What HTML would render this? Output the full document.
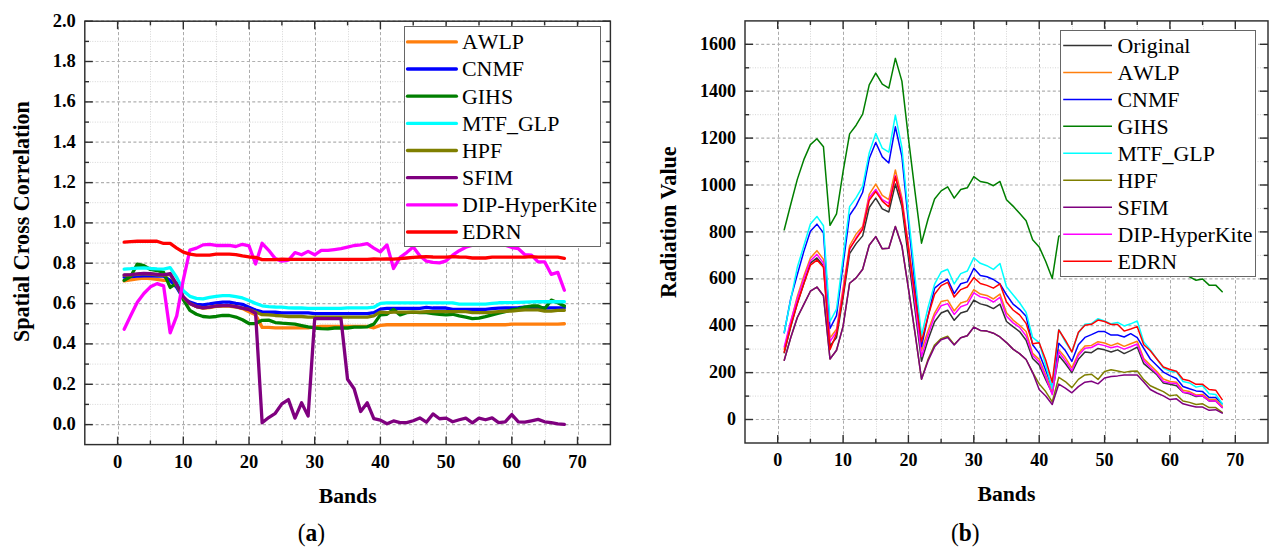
<!DOCTYPE html>
<html><head><meta charset="utf-8"><style>
html,body{margin:0;padding:0;background:#fff;width:1277px;height:552px;overflow:hidden}
svg{display:block}
text{font-family:"Liberation Serif", serif;fill:#000}
.tl{font-weight:bold}
.at{font-size:21.7px;font-weight:bold}
.yt{font-size:22.1px}
.lt{font-size:21.9px;font-kerning:none}
.sub{font-size:26px}
.frame{fill:none;stroke:#2e2e2e;stroke-width:1.45}
.tk{stroke:#2e2e2e;stroke-width:1.4}
.gmaj{stroke:#ababab;stroke-width:1;stroke-dasharray:3.2 2.2}
.gmajh{stroke:#b0b0b0;stroke-width:1.2;stroke-dasharray:3 2.4}
.gmin{stroke:#d6d6d6;stroke-width:1;stroke-dasharray:1 1.5}
.leg{fill:#fff;stroke:#666;stroke-width:1}
</style></head><body>
<svg width="1277" height="552" viewBox="0 0 1277 552">
<line x1="150.5" y1="21.2" x2="150.5" y2="444.6" class="gmin"/>
<line x1="216.5" y1="21.2" x2="216.5" y2="444.6" class="gmin"/>
<line x1="282.5" y1="21.2" x2="282.5" y2="444.6" class="gmin"/>
<line x1="348.5" y1="21.2" x2="348.5" y2="444.6" class="gmin"/>
<line x1="413.5" y1="21.2" x2="413.5" y2="444.6" class="gmin"/>
<line x1="479.5" y1="21.2" x2="479.5" y2="444.6" class="gmin"/>
<line x1="545.5" y1="21.2" x2="545.5" y2="444.6" class="gmin"/>
<line x1="84.8" y1="404.4" x2="610.4" y2="404.4" class="gmin"/>
<line x1="84.8" y1="364.1" x2="610.4" y2="364.1" class="gmin"/>
<line x1="84.8" y1="323.8" x2="610.4" y2="323.8" class="gmin"/>
<line x1="84.8" y1="283.4" x2="610.4" y2="283.4" class="gmin"/>
<line x1="84.8" y1="243.1" x2="610.4" y2="243.1" class="gmin"/>
<line x1="84.8" y1="202.7" x2="610.4" y2="202.7" class="gmin"/>
<line x1="84.8" y1="162.4" x2="610.4" y2="162.4" class="gmin"/>
<line x1="84.8" y1="122.1" x2="610.4" y2="122.1" class="gmin"/>
<line x1="84.8" y1="81.7" x2="610.4" y2="81.7" class="gmin"/>
<line x1="84.8" y1="41.4" x2="610.4" y2="41.4" class="gmin"/>
<line x1="118.5" y1="21.2" x2="118.5" y2="444.6" class="gmaj"/>
<line x1="183.5" y1="21.2" x2="183.5" y2="444.6" class="gmaj"/>
<line x1="249.5" y1="21.2" x2="249.5" y2="444.6" class="gmaj"/>
<line x1="315.5" y1="21.2" x2="315.5" y2="444.6" class="gmaj"/>
<line x1="380.5" y1="21.2" x2="380.5" y2="444.6" class="gmaj"/>
<line x1="446.5" y1="21.2" x2="446.5" y2="444.6" class="gmaj"/>
<line x1="512.5" y1="21.2" x2="512.5" y2="444.6" class="gmaj"/>
<line x1="578.5" y1="21.2" x2="578.5" y2="444.6" class="gmaj"/>
<line x1="84.8" y1="424.6" x2="610.4" y2="424.6" class="gmajh"/>
<line x1="84.8" y1="384.3" x2="610.4" y2="384.3" class="gmajh"/>
<line x1="84.8" y1="343.9" x2="610.4" y2="343.9" class="gmajh"/>
<line x1="84.8" y1="303.6" x2="610.4" y2="303.6" class="gmajh"/>
<line x1="84.8" y1="263.2" x2="610.4" y2="263.2" class="gmajh"/>
<line x1="84.8" y1="222.9" x2="610.4" y2="222.9" class="gmajh"/>
<line x1="84.8" y1="182.6" x2="610.4" y2="182.6" class="gmajh"/>
<line x1="84.8" y1="142.2" x2="610.4" y2="142.2" class="gmajh"/>
<line x1="84.8" y1="101.9" x2="610.4" y2="101.9" class="gmajh"/>
<line x1="84.8" y1="61.5" x2="610.4" y2="61.5" class="gmajh"/>
<line x1="84.8" y1="21.2" x2="610.4" y2="21.2" class="gmajh"/>
<polyline points="124.17,280.99 130.74,279.98 137.31,278.77 143.88,278.17 150.45,278.57 157.02,279.38 163.59,280.38 170.16,280.38 176.73,286.44 183.30,297.53 189.87,303.58 196.44,306.61 203.01,308.22 209.58,307.61 216.15,306.40 222.72,306.00 229.29,306.00 235.86,307.01 242.43,308.62 249.00,311.65 255.57,314.88 262.14,327.38 268.71,327.38 275.28,327.78 281.85,327.78 288.42,327.78 294.99,327.78 301.56,327.78 308.13,327.78 314.70,326.98 321.27,326.37 327.84,326.37 334.41,326.37 340.98,326.37 347.55,326.37 354.12,326.37 360.69,326.37 367.26,326.37 373.83,327.78 380.40,325.36 386.97,324.76 393.54,324.76 400.11,324.76 406.68,324.76 413.25,324.76 419.82,324.76 426.39,324.76 432.96,324.76 439.53,324.76 446.10,324.76 452.67,324.76 459.24,324.76 465.81,324.76 472.38,324.76 478.95,324.76 485.52,324.76 492.09,324.76 498.66,324.76 505.23,324.76 511.80,324.15 518.37,324.15 524.94,324.15 531.51,324.15 538.08,324.15 544.65,324.15 551.22,324.15 557.79,324.15 564.36,323.75" fill="none" stroke="#ff7f0e" stroke-width="3.3" stroke-linejoin="round" stroke-linecap="round"/>
<polyline points="124.17,277.16 130.74,276.55 137.31,276.15 143.88,275.95 150.45,275.95 157.02,276.15 163.59,276.15 170.16,280.38 176.73,287.44 183.30,298.34 189.87,302.17 196.44,304.39 203.01,304.99 209.58,303.98 216.15,302.77 222.72,302.17 229.29,302.17 235.86,303.38 242.43,304.39 249.00,307.21 255.57,310.03 262.14,311.85 268.71,312.05 275.28,312.25 281.85,312.86 288.42,312.86 294.99,312.86 301.56,312.86 308.13,312.86 314.70,313.67 321.27,313.67 327.84,313.67 334.41,313.67 340.98,313.67 347.55,313.67 354.12,313.67 360.69,313.67 367.26,313.67 373.83,312.66 380.40,309.23 386.97,308.42 393.54,308.42 400.11,308.42 406.68,308.42 413.25,308.42 419.82,308.42 426.39,307.41 432.96,308.02 439.53,308.02 446.10,308.02 452.67,309.43 459.24,309.43 465.81,309.43 472.38,309.43 478.95,309.43 485.52,309.43 492.09,308.62 498.66,308.22 505.23,308.02 511.80,307.82 518.37,307.61 524.94,307.21 531.51,307.41 538.08,307.61 544.65,308.02 551.22,307.82 557.79,307.82 564.36,307.82" fill="none" stroke="#0000ff" stroke-width="3.3" stroke-linejoin="round" stroke-linecap="round"/>
<polyline points="124.17,280.38 130.74,276.55 137.31,264.05 143.88,265.66 150.45,269.49 157.02,270.50 163.59,272.32 170.16,287.44 176.73,283.41 183.30,299.55 189.87,310.44 196.44,314.27 203.01,316.49 209.58,317.09 216.15,316.49 222.72,315.48 229.29,315.48 235.86,317.09 242.43,319.72 249.00,323.55 255.57,323.55 262.14,320.32 268.71,320.12 275.28,322.54 281.85,323.14 288.42,323.55 294.99,324.15 301.56,325.57 308.13,326.98 314.70,327.99 321.27,328.59 327.84,328.79 334.41,327.99 340.98,327.99 347.55,327.99 354.12,327.18 360.69,327.18 367.26,326.78 373.83,324.15 380.40,314.88 386.97,314.27 393.54,309.43 400.11,314.88 406.68,312.66 413.25,312.05 419.82,312.66 426.39,312.66 432.96,313.67 439.53,314.27 446.10,314.88 452.67,314.27 459.24,315.88 465.81,317.09 472.38,318.71 478.95,318.10 485.52,316.69 492.09,314.88 498.66,313.26 505.23,311.65 511.80,309.83 518.37,308.82 524.94,307.21 531.51,306.00 538.08,306.00 544.65,308.82 551.22,300.15 557.79,302.77 564.36,306.00" fill="none" stroke="#007f00" stroke-width="3.3" stroke-linejoin="round" stroke-linecap="round"/>
<polyline points="124.17,269.09 130.74,268.69 137.31,268.08 143.88,267.88 150.45,268.48 157.02,268.89 163.59,269.09 170.16,267.68 176.73,277.36 183.30,290.67 189.87,296.32 196.44,298.34 203.01,298.94 209.58,297.33 216.15,296.32 222.72,295.71 229.29,295.71 235.86,296.72 242.43,297.93 249.00,300.55 255.57,303.38 262.14,305.80 268.71,306.61 275.28,307.01 281.85,307.21 288.42,307.82 294.99,308.02 301.56,308.02 308.13,308.42 314.70,308.42 321.27,308.42 327.84,308.42 334.41,308.42 340.98,308.42 347.55,307.82 354.12,307.82 360.69,307.82 367.26,307.82 373.83,307.21 380.40,303.38 386.97,302.97 393.54,302.97 400.11,302.97 406.68,302.97 413.25,302.97 419.82,302.97 426.39,302.97 432.96,302.97 439.53,302.97 446.10,302.97 452.67,302.97 459.24,304.19 465.81,304.19 472.38,304.19 478.95,304.19 485.52,304.19 492.09,303.38 498.66,302.77 505.23,302.57 511.80,302.57 518.37,302.37 524.94,302.17 531.51,301.97 538.08,301.76 544.65,301.76 551.22,301.76 557.79,301.76 564.36,301.76" fill="none" stroke="#00ffff" stroke-width="3.3" stroke-linejoin="round" stroke-linecap="round"/>
<polyline points="124.17,275.34 130.74,274.94 137.31,274.33 143.88,273.73 150.45,274.13 157.02,274.74 163.59,275.34 170.16,274.33 176.73,285.43 183.30,297.53 189.87,303.58 196.44,306.61 203.01,307.82 209.58,307.21 216.15,306.00 222.72,305.60 229.29,305.60 235.86,306.61 242.43,308.22 249.00,309.43 255.57,312.05 262.14,314.67 268.71,314.88 275.28,315.48 281.85,315.88 288.42,316.49 294.99,316.49 301.56,316.49 308.13,317.09 314.70,317.09 321.27,317.09 327.84,317.09 334.41,317.09 340.98,317.09 347.55,317.09 354.12,317.09 360.69,317.09 367.26,317.09 373.83,315.88 380.40,312.05 386.97,312.66 393.54,312.05 400.11,312.05 406.68,312.05 413.25,312.05 419.82,312.05 426.39,311.65 432.96,311.65 439.53,311.65 446.10,311.65 452.67,311.65 459.24,311.65 465.81,311.65 472.38,312.66 478.95,312.66 485.52,312.66 492.09,312.05 498.66,311.65 505.23,311.24 511.80,311.04 518.37,310.44 524.94,309.83 531.51,309.83 538.08,309.83 544.65,311.04 551.22,311.04 557.79,310.44 564.36,310.24" fill="none" stroke="#7f7f00" stroke-width="3.3" stroke-linejoin="round" stroke-linecap="round"/>
<polyline points="124.17,274.94 130.74,274.54 137.31,273.93 143.88,273.33 150.45,273.73 157.02,274.33 163.59,274.94 170.16,273.53 176.73,284.42 183.30,296.52 189.87,303.58 196.44,306.61 203.01,307.82 209.58,307.21 216.15,306.00 222.72,305.60 229.29,305.60 235.86,306.61 242.43,308.22 249.00,309.63 255.57,313.26 262.14,422.78 268.71,417.54 275.28,413.30 281.85,403.82 288.42,399.59 294.99,418.15 301.56,402.82 308.13,416.13 314.70,318.71 321.27,318.71 327.84,318.71 334.41,318.71 340.98,318.71 347.55,379.22 354.12,388.70 360.69,411.49 367.26,402.82 373.83,418.55 380.40,420.16 386.97,423.79 393.54,420.97 400.11,422.58 406.68,422.58 413.25,420.77 419.82,417.94 426.39,422.18 432.96,413.91 439.53,418.75 446.10,418.15 452.67,421.78 459.24,419.76 465.81,418.15 472.38,422.78 478.95,418.15 485.52,419.76 492.09,417.94 498.66,422.58 505.23,421.78 511.80,414.52 518.37,421.78 524.94,422.18 531.51,420.77 538.08,419.36 544.65,421.78 551.22,422.58 557.79,423.79 564.36,424.40" fill="none" stroke="#7f007f" stroke-width="3.3" stroke-linejoin="round" stroke-linecap="round"/>
<polyline points="124.17,329.20 130.74,315.48 137.31,302.17 143.88,293.50 150.45,286.84 157.02,283.61 163.59,285.83 170.16,332.83 176.73,315.88 183.30,279.78 189.87,250.13 196.44,248.11 203.01,244.89 209.58,244.28 216.15,245.49 222.72,245.49 229.29,245.49 235.86,246.50 242.43,244.28 249.00,245.89 255.57,264.05 262.14,243.27 268.71,250.33 275.28,258.60 281.85,261.22 288.42,260.21 294.99,252.55 301.56,254.77 308.13,251.34 314.70,254.77 321.27,250.33 327.84,250.33 334.41,249.52 340.98,248.72 347.55,247.10 354.12,245.49 360.69,244.89 367.26,243.68 373.83,248.11 380.40,251.94 386.97,244.89 393.54,268.48 400.11,257.39 406.68,252.55 413.25,247.10 419.82,255.78 426.39,261.22 432.96,262.43 439.53,262.84 446.10,260.82 452.67,255.17 459.24,250.73 465.81,247.31 472.38,245.09 478.95,245.09 485.52,244.08 492.09,244.08 498.66,244.08 505.23,245.09 511.80,247.51 518.37,248.72 524.94,254.77 531.51,255.17 538.08,261.83 544.65,261.83 551.22,274.33 557.79,272.32 564.36,290.27" fill="none" stroke="#ff00ff" stroke-width="3.3" stroke-linejoin="round" stroke-linecap="round"/>
<polyline points="124.17,242.06 130.74,241.66 137.31,241.25 143.88,241.05 150.45,241.25 157.02,241.25 163.59,243.47 170.16,243.47 176.73,248.11 183.30,252.15 189.87,254.16 196.44,255.17 203.01,255.17 209.58,255.17 216.15,254.16 222.72,254.16 229.29,254.16 235.86,254.57 242.43,255.98 249.00,256.99 255.57,257.39 262.14,259.61 268.71,259.61 275.28,259.61 281.85,259.21 288.42,259.41 294.99,259.41 301.56,259.41 308.13,259.41 314.70,259.41 321.27,259.41 327.84,259.41 334.41,259.41 340.98,259.41 347.55,259.41 354.12,259.41 360.69,259.41 367.26,259.41 373.83,259.00 380.40,259.21 386.97,258.80 393.54,259.21 400.11,258.60 406.68,258.00 413.25,257.39 419.82,256.99 426.39,256.58 432.96,256.99 439.53,257.19 446.10,257.19 452.67,256.58 459.24,256.99 465.81,257.19 472.38,258.00 478.95,258.00 485.52,258.00 492.09,257.19 498.66,257.19 505.23,257.19 511.80,257.19 518.37,257.19 524.94,257.19 531.51,256.58 538.08,257.19 544.65,257.19 551.22,257.19 557.79,257.19 564.36,258.40" fill="none" stroke="#ff0000" stroke-width="3.3" stroke-linejoin="round" stroke-linecap="round"/>
<rect x="84.8" y="21.2" width="525.6" height="423.4" class="frame"/>
<line x1="117.6" y1="444.6" x2="117.6" y2="436.6" class="tk"/>
<line x1="117.6" y1="21.2" x2="117.6" y2="29.2" class="tk"/>
<text x="117.6" y="467.6" class="tl" font-size="18.5" text-anchor="middle">0</text>
<line x1="183.3" y1="444.6" x2="183.3" y2="436.6" class="tk"/>
<line x1="183.3" y1="21.2" x2="183.3" y2="29.2" class="tk"/>
<text x="183.3" y="467.6" class="tl" font-size="18.5" text-anchor="middle">10</text>
<line x1="249.0" y1="444.6" x2="249.0" y2="436.6" class="tk"/>
<line x1="249.0" y1="21.2" x2="249.0" y2="29.2" class="tk"/>
<text x="249.0" y="467.6" class="tl" font-size="18.5" text-anchor="middle">20</text>
<line x1="314.7" y1="444.6" x2="314.7" y2="436.6" class="tk"/>
<line x1="314.7" y1="21.2" x2="314.7" y2="29.2" class="tk"/>
<text x="314.7" y="467.6" class="tl" font-size="18.5" text-anchor="middle">30</text>
<line x1="380.4" y1="444.6" x2="380.4" y2="436.6" class="tk"/>
<line x1="380.4" y1="21.2" x2="380.4" y2="29.2" class="tk"/>
<text x="380.4" y="467.6" class="tl" font-size="18.5" text-anchor="middle">40</text>
<line x1="446.1" y1="444.6" x2="446.1" y2="436.6" class="tk"/>
<line x1="446.1" y1="21.2" x2="446.1" y2="29.2" class="tk"/>
<text x="446.1" y="467.6" class="tl" font-size="18.5" text-anchor="middle">50</text>
<line x1="511.8" y1="444.6" x2="511.8" y2="436.6" class="tk"/>
<line x1="511.8" y1="21.2" x2="511.8" y2="29.2" class="tk"/>
<text x="511.8" y="467.6" class="tl" font-size="18.5" text-anchor="middle">60</text>
<line x1="577.5" y1="444.6" x2="577.5" y2="436.6" class="tk"/>
<line x1="577.5" y1="21.2" x2="577.5" y2="29.2" class="tk"/>
<text x="577.5" y="467.6" class="tl" font-size="18.5" text-anchor="middle">70</text>
<line x1="150.4" y1="444.6" x2="150.4" y2="440.4" class="tk"/>
<line x1="150.4" y1="21.2" x2="150.4" y2="25.4" class="tk"/>
<line x1="216.2" y1="444.6" x2="216.2" y2="440.4" class="tk"/>
<line x1="216.2" y1="21.2" x2="216.2" y2="25.4" class="tk"/>
<line x1="281.9" y1="444.6" x2="281.9" y2="440.4" class="tk"/>
<line x1="281.9" y1="21.2" x2="281.9" y2="25.4" class="tk"/>
<line x1="347.6" y1="444.6" x2="347.6" y2="440.4" class="tk"/>
<line x1="347.6" y1="21.2" x2="347.6" y2="25.4" class="tk"/>
<line x1="413.2" y1="444.6" x2="413.2" y2="440.4" class="tk"/>
<line x1="413.2" y1="21.2" x2="413.2" y2="25.4" class="tk"/>
<line x1="479.0" y1="444.6" x2="479.0" y2="440.4" class="tk"/>
<line x1="479.0" y1="21.2" x2="479.0" y2="25.4" class="tk"/>
<line x1="544.6" y1="444.6" x2="544.6" y2="440.4" class="tk"/>
<line x1="544.6" y1="21.2" x2="544.6" y2="25.4" class="tk"/>
<line x1="84.8" y1="424.6" x2="92.8" y2="424.6" class="tk"/>
<line x1="610.4" y1="424.6" x2="602.4" y2="424.6" class="tk"/>
<text x="75.8" y="429.9" class="tl" font-size="18.5" text-anchor="end">0.0</text>
<line x1="84.8" y1="384.3" x2="92.8" y2="384.3" class="tk"/>
<line x1="610.4" y1="384.3" x2="602.4" y2="384.3" class="tk"/>
<text x="75.8" y="389.6" class="tl" font-size="18.5" text-anchor="end">0.2</text>
<line x1="84.8" y1="343.9" x2="92.8" y2="343.9" class="tk"/>
<line x1="610.4" y1="343.9" x2="602.4" y2="343.9" class="tk"/>
<text x="75.8" y="349.2" class="tl" font-size="18.5" text-anchor="end">0.4</text>
<line x1="84.8" y1="303.6" x2="92.8" y2="303.6" class="tk"/>
<line x1="610.4" y1="303.6" x2="602.4" y2="303.6" class="tk"/>
<text x="75.8" y="308.9" class="tl" font-size="18.5" text-anchor="end">0.6</text>
<line x1="84.8" y1="263.2" x2="92.8" y2="263.2" class="tk"/>
<line x1="610.4" y1="263.2" x2="602.4" y2="263.2" class="tk"/>
<text x="75.8" y="268.5" class="tl" font-size="18.5" text-anchor="end">0.8</text>
<line x1="84.8" y1="222.9" x2="92.8" y2="222.9" class="tk"/>
<line x1="610.4" y1="222.9" x2="602.4" y2="222.9" class="tk"/>
<text x="75.8" y="228.2" class="tl" font-size="18.5" text-anchor="end">1.0</text>
<line x1="84.8" y1="182.6" x2="92.8" y2="182.6" class="tk"/>
<line x1="610.4" y1="182.6" x2="602.4" y2="182.6" class="tk"/>
<text x="75.8" y="187.9" class="tl" font-size="18.5" text-anchor="end">1.2</text>
<line x1="84.8" y1="142.2" x2="92.8" y2="142.2" class="tk"/>
<line x1="610.4" y1="142.2" x2="602.4" y2="142.2" class="tk"/>
<text x="75.8" y="147.5" class="tl" font-size="18.5" text-anchor="end">1.4</text>
<line x1="84.8" y1="101.9" x2="92.8" y2="101.9" class="tk"/>
<line x1="610.4" y1="101.9" x2="602.4" y2="101.9" class="tk"/>
<text x="75.8" y="107.2" class="tl" font-size="18.5" text-anchor="end">1.6</text>
<line x1="84.8" y1="61.5" x2="92.8" y2="61.5" class="tk"/>
<line x1="610.4" y1="61.5" x2="602.4" y2="61.5" class="tk"/>
<text x="75.8" y="66.8" class="tl" font-size="18.5" text-anchor="end">1.8</text>
<line x1="84.8" y1="21.2" x2="92.8" y2="21.2" class="tk"/>
<line x1="610.4" y1="21.2" x2="602.4" y2="21.2" class="tk"/>
<text x="75.8" y="26.5" class="tl" font-size="18.5" text-anchor="end">2.0</text>
<line x1="84.8" y1="404.4" x2="89.0" y2="404.4" class="tk"/>
<line x1="610.4" y1="404.4" x2="606.1" y2="404.4" class="tk"/>
<line x1="84.8" y1="364.1" x2="89.0" y2="364.1" class="tk"/>
<line x1="610.4" y1="364.1" x2="606.1" y2="364.1" class="tk"/>
<line x1="84.8" y1="323.8" x2="89.0" y2="323.8" class="tk"/>
<line x1="610.4" y1="323.8" x2="606.1" y2="323.8" class="tk"/>
<line x1="84.8" y1="283.4" x2="89.0" y2="283.4" class="tk"/>
<line x1="610.4" y1="283.4" x2="606.1" y2="283.4" class="tk"/>
<line x1="84.8" y1="243.1" x2="89.0" y2="243.1" class="tk"/>
<line x1="610.4" y1="243.1" x2="606.1" y2="243.1" class="tk"/>
<line x1="84.8" y1="202.7" x2="89.0" y2="202.7" class="tk"/>
<line x1="610.4" y1="202.7" x2="606.1" y2="202.7" class="tk"/>
<line x1="84.8" y1="162.4" x2="89.0" y2="162.4" class="tk"/>
<line x1="610.4" y1="162.4" x2="606.1" y2="162.4" class="tk"/>
<line x1="84.8" y1="122.1" x2="89.0" y2="122.1" class="tk"/>
<line x1="610.4" y1="122.1" x2="606.1" y2="122.1" class="tk"/>
<line x1="84.8" y1="81.7" x2="89.0" y2="81.7" class="tk"/>
<line x1="610.4" y1="81.7" x2="606.1" y2="81.7" class="tk"/>
<line x1="84.8" y1="41.4" x2="89.0" y2="41.4" class="tk"/>
<line x1="610.4" y1="41.4" x2="606.1" y2="41.4" class="tk"/>
<text x="29.1" y="221.6" class="at yt" text-anchor="middle" transform="rotate(-90 29.1 221.6)">Spatial Cross Correlation</text>
<text x="347.7" y="502.9" class="at" text-anchor="middle">Bands</text>
<g transform="translate(311.3 541.3) scale(0.9 1)"><text x="0" y="0" class="sub" text-anchor="middle">(<tspan font-weight="bold">a</tspan>)</text></g>
<rect x="404.5" y="26.5" width="196.0" height="220.0" class="leg"/>
<line x1="407.5" y1="41.9" x2="456.4" y2="41.9" stroke="#ff7f0e" stroke-width="3.3" stroke-linecap="round"/>
<text x="462" y="49.2" class="lt">AWLP</text>
<line x1="407.5" y1="69.0" x2="456.4" y2="69.0" stroke="#0000ff" stroke-width="3.3" stroke-linecap="round"/>
<text x="462" y="76.4" class="lt">CNMF</text>
<line x1="407.5" y1="96.2" x2="456.4" y2="96.2" stroke="#007f00" stroke-width="3.3" stroke-linecap="round"/>
<text x="462" y="103.6" class="lt">GIHS</text>
<line x1="407.5" y1="123.4" x2="456.4" y2="123.4" stroke="#00ffff" stroke-width="3.3" stroke-linecap="round"/>
<text x="462" y="130.8" class="lt">MTF_GLP</text>
<line x1="407.5" y1="150.5" x2="456.4" y2="150.5" stroke="#7f7f00" stroke-width="3.3" stroke-linecap="round"/>
<text x="462" y="157.9" class="lt">HPF</text>
<line x1="407.5" y1="177.7" x2="456.4" y2="177.7" stroke="#7f007f" stroke-width="3.3" stroke-linecap="round"/>
<text x="462" y="185.1" class="lt">SFIM</text>
<line x1="407.5" y1="204.9" x2="456.4" y2="204.9" stroke="#ff00ff" stroke-width="3.3" stroke-linecap="round"/>
<text x="462" y="212.3" class="lt">DIP-HyperKite</text>
<line x1="407.5" y1="232.0" x2="456.4" y2="232.0" stroke="#ff0000" stroke-width="3.3" stroke-linecap="round"/>
<text x="462" y="239.4" class="lt">EDRN</text>
<line x1="810.5" y1="20.9" x2="810.5" y2="443.0" class="gmin"/>
<line x1="876.5" y1="20.9" x2="876.5" y2="443.0" class="gmin"/>
<line x1="941.5" y1="20.9" x2="941.5" y2="443.0" class="gmin"/>
<line x1="1006.5" y1="20.9" x2="1006.5" y2="443.0" class="gmin"/>
<line x1="1072.5" y1="20.9" x2="1072.5" y2="443.0" class="gmin"/>
<line x1="1137.5" y1="20.9" x2="1137.5" y2="443.0" class="gmin"/>
<line x1="1203.5" y1="20.9" x2="1203.5" y2="443.0" class="gmin"/>
<line x1="745.0" y1="396.1" x2="1268.0" y2="396.1" class="gmin"/>
<line x1="745.0" y1="349.1" x2="1268.0" y2="349.1" class="gmin"/>
<line x1="745.0" y1="302.2" x2="1268.0" y2="302.2" class="gmin"/>
<line x1="745.0" y1="255.4" x2="1268.0" y2="255.4" class="gmin"/>
<line x1="745.0" y1="208.5" x2="1268.0" y2="208.5" class="gmin"/>
<line x1="745.0" y1="161.6" x2="1268.0" y2="161.6" class="gmin"/>
<line x1="745.0" y1="114.7" x2="1268.0" y2="114.7" class="gmin"/>
<line x1="745.0" y1="67.8" x2="1268.0" y2="67.8" class="gmin"/>
<line x1="778.5" y1="20.9" x2="778.5" y2="443.0" class="gmaj"/>
<line x1="843.5" y1="20.9" x2="843.5" y2="443.0" class="gmaj"/>
<line x1="908.5" y1="20.9" x2="908.5" y2="443.0" class="gmaj"/>
<line x1="974.5" y1="20.9" x2="974.5" y2="443.0" class="gmaj"/>
<line x1="1039.5" y1="20.9" x2="1039.5" y2="443.0" class="gmaj"/>
<line x1="1105.5" y1="20.9" x2="1105.5" y2="443.0" class="gmaj"/>
<line x1="1170.5" y1="20.9" x2="1170.5" y2="443.0" class="gmaj"/>
<line x1="1235.5" y1="20.9" x2="1235.5" y2="443.0" class="gmaj"/>
<line x1="745.0" y1="419.5" x2="1268.0" y2="419.5" class="gmajh"/>
<line x1="745.0" y1="372.6" x2="1268.0" y2="372.6" class="gmajh"/>
<line x1="745.0" y1="325.7" x2="1268.0" y2="325.7" class="gmajh"/>
<line x1="745.0" y1="278.8" x2="1268.0" y2="278.8" class="gmajh"/>
<line x1="745.0" y1="231.9" x2="1268.0" y2="231.9" class="gmajh"/>
<line x1="745.0" y1="185.0" x2="1268.0" y2="185.0" class="gmajh"/>
<line x1="745.0" y1="138.1" x2="1268.0" y2="138.1" class="gmajh"/>
<line x1="745.0" y1="91.2" x2="1268.0" y2="91.2" class="gmajh"/>
<line x1="745.0" y1="44.3" x2="1268.0" y2="44.3" class="gmajh"/>
<polyline points="784.24,352.67 790.77,326.87 797.31,303.42 803.85,283.49 810.38,263.09 816.92,257.93 823.46,265.90 830.00,345.87 836.53,337.43 843.07,297.56 849.61,253.71 856.14,243.62 862.68,235.89 869.22,207.51 875.75,198.13 882.29,208.92 888.83,211.97 895.37,184.06 901.90,206.57 908.44,257.70 914.98,309.29 921.51,361.34 928.05,339.77 934.59,321.71 941.12,313.04 947.66,310.22 954.20,320.31 960.74,313.04 967.27,310.93 973.81,300.14 980.35,303.89 986.88,305.53 993.42,308.58 999.96,304.13 1006.50,321.48 1013.03,326.64 1019.57,331.56 1026.11,340.24 1032.64,358.53 1039.18,364.86 1045.72,379.63 1052.25,393.24 1058.79,355.48 1065.33,363.45 1071.87,372.60 1078.40,359.23 1084.94,351.96 1091.48,352.67 1098.01,348.45 1104.55,349.85 1111.09,351.96 1117.62,349.85 1124.16,353.61 1130.70,350.56 1137.24,347.04 1143.77,363.69 1150.31,369.08 1156.85,374.71 1163.38,382.92 1169.92,384.32 1176.46,385.73 1182.99,392.30 1189.53,393.70 1196.07,396.52 1202.61,395.82 1209.14,400.97 1215.68,400.97 1222.22,407.54" fill="none" stroke="#333333" stroke-width="1.5" stroke-linejoin="round" stroke-linecap="round"/>
<polyline points="784.24,349.15 790.77,322.18 797.31,296.39 803.85,275.99 810.38,257.93 816.92,250.66 823.46,259.34 830.00,337.89 836.53,329.22 843.07,288.18 849.61,245.74 856.14,234.01 862.68,226.51 869.22,194.38 875.75,184.06 882.29,195.32 888.83,199.54 895.37,169.99 901.90,197.90 908.44,244.80 914.98,295.22 921.51,350.79 928.05,330.39 934.59,313.04 941.12,301.55 947.66,300.14 954.20,310.93 960.74,302.95 967.27,300.84 973.81,289.59 980.35,294.04 986.88,295.45 993.42,298.97 999.96,294.04 1006.50,312.80 1013.03,320.07 1019.57,325.23 1026.11,331.56 1032.64,353.37 1039.18,359.23 1045.72,374.94 1052.25,391.83 1058.79,349.62 1065.33,357.59 1071.87,367.91 1078.40,353.37 1084.94,346.10 1091.48,345.40 1098.01,341.65 1104.55,343.05 1111.09,345.63 1117.62,343.29 1124.16,346.34 1130.70,343.76 1137.24,341.18 1143.77,358.53 1150.31,365.10 1156.85,371.43 1163.38,378.93 1169.92,381.51 1176.46,382.21 1182.99,390.19 1189.53,391.59 1196.07,394.88 1202.61,394.41 1209.14,399.57 1215.68,399.57 1222.22,406.13" fill="none" stroke="#ff7f0e" stroke-width="1.5" stroke-linejoin="round" stroke-linecap="round"/>
<polyline points="784.24,332.74 790.77,298.50 797.31,274.58 803.85,251.36 810.38,231.20 816.92,224.16 823.46,232.84 830.00,328.51 836.53,315.62 843.07,264.73 849.61,215.25 856.14,205.64 862.68,192.27 869.22,158.50 875.75,142.56 882.29,156.86 888.83,162.96 895.37,126.84 901.90,156.39 908.44,222.52 914.98,284.66 921.51,346.57 928.05,316.32 934.59,288.18 941.12,282.79 947.66,279.27 954.20,293.57 960.74,283.72 967.27,281.85 973.81,268.25 980.35,275.52 986.88,276.69 993.42,279.50 999.96,283.96 1006.50,294.75 1013.03,304.13 1019.57,309.29 1026.11,316.32 1032.64,344.69 1039.18,353.37 1045.72,370.25 1052.25,387.37 1058.79,343.29 1065.33,350.56 1071.87,361.34 1078.40,344.69 1084.94,337.43 1091.48,334.61 1098.01,331.56 1104.55,331.56 1111.09,335.08 1117.62,335.08 1124.16,336.96 1130.70,333.67 1137.24,337.66 1143.77,348.45 1150.31,359.00 1156.85,365.56 1163.38,372.13 1169.92,375.65 1176.46,378.46 1182.99,386.44 1189.53,388.78 1196.07,390.89 1202.61,391.59 1209.14,397.46 1215.68,397.46 1222.22,403.79" fill="none" stroke="#0000ff" stroke-width="1.5" stroke-linejoin="round" stroke-linecap="round"/>
<polyline points="784.24,229.79 790.77,204.23 797.31,179.37 803.85,159.67 810.38,144.67 816.92,138.80 823.46,146.78 830.00,225.33 836.53,213.84 843.07,171.63 849.61,133.88 856.14,125.20 862.68,114.18 869.22,84.87 875.75,73.14 882.29,84.17 888.83,88.15 895.37,58.37 901.90,81.12 908.44,138.10 914.98,191.57 921.51,243.16 928.05,219.00 934.59,199.07 941.12,190.86 947.66,186.88 954.20,198.13 960.74,189.46 967.27,187.81 973.81,176.56 980.35,181.48 986.88,182.66 993.42,185.70 999.96,181.48 1006.50,199.77 1013.03,206.11 1019.57,213.37 1026.11,220.64 1032.64,239.64 1039.18,246.91 1045.72,261.45 1052.25,278.57 1058.79,236.12 1065.33,234.25 1071.87,238.94 1078.40,231.90 1084.94,229.56 1091.48,229.56 1098.01,227.21 1104.55,227.21 1111.09,229.56 1117.62,229.56 1124.16,231.90 1130.70,231.90 1137.24,231.90 1143.77,243.62 1150.31,250.66 1156.85,255.35 1163.38,260.04 1169.92,264.73 1176.46,269.42 1182.99,272.94 1189.53,276.92 1196.07,280.21 1202.61,279.03 1209.14,285.13 1215.68,285.13 1222.22,291.70" fill="none" stroke="#007f00" stroke-width="1.5" stroke-linejoin="round" stroke-linecap="round"/>
<polyline points="784.24,332.27 790.77,299.44 797.31,267.31 803.85,245.74 810.38,223.93 816.92,216.42 823.46,225.80 830.00,321.48 836.53,309.05 843.07,257.70 849.61,206.57 856.14,197.66 862.68,186.41 869.22,152.87 875.75,133.41 882.29,148.18 888.83,152.17 895.37,115.12 901.90,147.71 908.44,215.49 914.98,276.46 921.51,335.78 928.05,307.41 934.59,284.19 941.12,272.00 947.66,269.19 954.20,283.96 960.74,273.64 967.27,271.06 973.81,257.70 980.35,263.32 986.88,265.67 993.42,269.42 999.96,263.56 1006.50,286.77 1013.03,294.75 1019.57,302.72 1026.11,312.33 1032.64,337.43 1039.18,342.58 1045.72,365.56 1052.25,388.78 1058.79,329.45 1065.33,341.88 1071.87,351.96 1078.40,332.97 1084.94,324.29 1091.48,323.59 1098.01,318.67 1104.55,321.01 1111.09,323.82 1117.62,322.42 1124.16,325.93 1130.70,323.82 1137.24,321.01 1143.77,341.88 1150.31,349.62 1156.85,359.00 1163.38,368.14 1169.92,371.19 1176.46,371.90 1182.99,381.51 1189.53,382.92 1196.07,387.14 1202.61,385.73 1209.14,393.70 1215.68,394.41 1222.22,403.79" fill="none" stroke="#00ffff" stroke-width="1.5" stroke-linejoin="round" stroke-linecap="round"/>
<polyline points="784.24,360.17 790.77,337.43 797.31,317.49 803.85,304.36 810.38,291.23 816.92,287.01 823.46,295.68 830.00,359.00 836.53,350.32 843.07,326.40 849.61,283.26 856.14,277.86 862.68,269.19 869.22,245.27 875.75,236.59 882.29,248.78 888.83,248.31 895.37,226.51 901.90,245.97 908.44,288.65 914.98,332.74 921.51,379.17 928.05,359.23 934.59,344.93 941.12,338.60 947.66,336.25 954.20,344.46 960.74,337.66 967.27,335.78 973.81,327.11 980.35,330.39 986.88,331.09 993.42,333.20 999.96,336.96 1006.50,342.58 1013.03,349.15 1019.57,353.61 1026.11,359.47 1032.64,372.37 1039.18,383.86 1045.72,391.59 1052.25,401.91 1058.79,377.29 1065.33,381.51 1071.87,387.61 1078.40,379.40 1084.94,374.94 1091.48,374.24 1098.01,379.40 1104.55,371.43 1111.09,369.79 1117.62,370.96 1124.16,372.37 1130.70,371.19 1137.24,370.96 1143.77,379.63 1150.31,385.73 1156.85,388.78 1163.38,391.59 1169.92,395.82 1176.46,394.88 1182.99,400.97 1189.53,402.38 1196.07,404.49 1202.61,403.79 1209.14,407.54 1215.68,407.54 1222.22,412.46" fill="none" stroke="#7f7f00" stroke-width="1.5" stroke-linejoin="round" stroke-linecap="round"/>
<polyline points="784.24,360.17 790.77,337.43 797.31,317.49 803.85,304.36 810.38,291.23 816.92,287.01 823.46,295.68 830.00,359.00 836.53,350.32 843.07,326.40 849.61,283.26 856.14,277.86 862.68,269.19 869.22,245.27 875.75,236.59 882.29,248.78 888.83,248.31 895.37,226.51 901.90,245.97 908.44,288.65 914.98,332.74 921.51,379.17 928.05,360.88 934.59,346.81 941.12,339.77 947.66,337.43 954.20,344.93 960.74,337.66 967.27,335.78 973.81,327.11 980.35,330.39 986.88,331.09 993.42,333.20 999.96,336.96 1006.50,342.58 1013.03,349.15 1019.57,353.61 1026.11,359.47 1032.64,372.60 1039.18,389.48 1045.72,396.05 1052.25,404.49 1058.79,384.09 1065.33,388.08 1071.87,392.77 1078.40,386.67 1084.94,382.21 1091.48,381.28 1098.01,383.86 1104.55,377.99 1111.09,376.59 1117.62,375.88 1124.16,374.94 1130.70,374.94 1137.24,374.94 1143.77,381.98 1150.31,389.48 1156.85,393.00 1163.38,395.82 1169.92,399.57 1176.46,398.86 1182.99,403.79 1189.53,405.43 1196.07,407.07 1202.61,407.07 1209.14,410.35 1215.68,409.65 1222.22,413.17" fill="none" stroke="#7f007f" stroke-width="1.5" stroke-linejoin="round" stroke-linecap="round"/>
<polyline points="784.24,346.81 790.77,321.01 797.31,298.73 803.85,278.80 810.38,260.74 816.92,254.41 823.46,263.09 830.00,341.65 836.53,331.56 843.07,291.70 849.61,249.49 856.14,237.76 862.68,228.38 869.22,197.43 875.75,189.46 882.29,199.54 888.83,203.29 895.37,175.62 901.90,200.24 908.44,248.31 914.98,302.25 921.51,356.42 928.05,335.08 934.59,316.09 941.12,305.77 947.66,303.66 954.20,314.44 960.74,306.71 967.27,304.36 973.81,292.87 980.35,296.86 986.88,298.26 993.42,302.02 999.96,297.33 1006.50,316.32 1013.03,322.89 1019.57,327.34 1026.11,336.02 1032.64,355.48 1039.18,362.05 1045.72,377.29 1052.25,394.64 1058.79,351.96 1065.33,360.64 1071.87,370.72 1078.40,355.48 1084.94,348.21 1091.48,347.51 1098.01,343.99 1104.55,345.63 1111.09,347.74 1117.62,346.34 1124.16,349.15 1130.70,346.81 1137.24,343.99 1143.77,360.64 1150.31,367.44 1156.85,373.54 1163.38,381.51 1169.92,382.92 1176.46,383.62 1182.99,392.30 1189.53,393.00 1196.07,395.82 1202.61,395.82 1209.14,400.97 1215.68,400.97 1222.22,407.54" fill="none" stroke="#ff00ff" stroke-width="1.5" stroke-linejoin="round" stroke-linecap="round"/>
<polyline points="784.24,351.96 790.77,325.70 797.31,303.42 803.85,283.49 810.38,265.20 816.92,260.04 823.46,267.31 830.00,349.62 836.53,333.67 843.07,294.51 849.61,248.55 856.14,238.94 862.68,229.32 869.22,200.24 875.75,191.57 882.29,201.18 888.83,206.81 895.37,176.79 901.90,202.35 908.44,248.78 914.98,295.45 921.51,341.65 928.05,316.32 934.59,294.28 941.12,285.60 947.66,282.32 954.20,297.09 960.74,289.59 967.27,287.01 973.81,277.63 980.35,283.49 986.88,285.37 993.42,288.18 999.96,283.96 1006.50,302.02 1013.03,309.99 1019.57,314.91 1026.11,323.36 1032.64,343.76 1039.18,342.82 1045.72,359.94 1052.25,382.21 1058.79,329.92 1065.33,340.24 1071.87,351.96 1078.40,332.27 1084.94,325.23 1091.48,324.29 1098.01,320.07 1104.55,321.48 1111.09,324.53 1117.62,324.53 1124.16,331.09 1130.70,328.98 1137.24,326.64 1143.77,344.69 1150.31,350.79 1156.85,359.00 1163.38,366.97 1169.92,369.55 1176.46,371.19 1182.99,379.17 1189.53,380.81 1196.07,384.32 1202.61,384.32 1209.14,389.48 1215.68,390.19 1222.22,399.57" fill="none" stroke="#ff0000" stroke-width="1.5" stroke-linejoin="round" stroke-linecap="round"/>
<rect x="745.0" y="20.9" width="523.0" height="422.1" class="frame"/>
<line x1="777.7" y1="443.0" x2="777.7" y2="435.0" class="tk"/>
<line x1="777.7" y1="20.9" x2="777.7" y2="28.9" class="tk"/>
<text x="777.7" y="466.0" class="tl" font-size="18.0" text-anchor="middle">0</text>
<line x1="843.1" y1="443.0" x2="843.1" y2="435.0" class="tk"/>
<line x1="843.1" y1="20.9" x2="843.1" y2="28.9" class="tk"/>
<text x="843.1" y="466.0" class="tl" font-size="18.0" text-anchor="middle">10</text>
<line x1="908.4" y1="443.0" x2="908.4" y2="435.0" class="tk"/>
<line x1="908.4" y1="20.9" x2="908.4" y2="28.9" class="tk"/>
<text x="908.4" y="466.0" class="tl" font-size="18.0" text-anchor="middle">20</text>
<line x1="973.8" y1="443.0" x2="973.8" y2="435.0" class="tk"/>
<line x1="973.8" y1="20.9" x2="973.8" y2="28.9" class="tk"/>
<text x="973.8" y="466.0" class="tl" font-size="18.0" text-anchor="middle">30</text>
<line x1="1039.2" y1="443.0" x2="1039.2" y2="435.0" class="tk"/>
<line x1="1039.2" y1="20.9" x2="1039.2" y2="28.9" class="tk"/>
<text x="1039.2" y="466.0" class="tl" font-size="18.0" text-anchor="middle">40</text>
<line x1="1104.6" y1="443.0" x2="1104.6" y2="435.0" class="tk"/>
<line x1="1104.6" y1="20.9" x2="1104.6" y2="28.9" class="tk"/>
<text x="1104.6" y="466.0" class="tl" font-size="18.0" text-anchor="middle">50</text>
<line x1="1169.9" y1="443.0" x2="1169.9" y2="435.0" class="tk"/>
<line x1="1169.9" y1="20.9" x2="1169.9" y2="28.9" class="tk"/>
<text x="1169.9" y="466.0" class="tl" font-size="18.0" text-anchor="middle">60</text>
<line x1="1235.3" y1="443.0" x2="1235.3" y2="435.0" class="tk"/>
<line x1="1235.3" y1="20.9" x2="1235.3" y2="28.9" class="tk"/>
<text x="1235.3" y="466.0" class="tl" font-size="18.0" text-anchor="middle">70</text>
<line x1="810.4" y1="443.0" x2="810.4" y2="438.8" class="tk"/>
<line x1="810.4" y1="20.9" x2="810.4" y2="25.1" class="tk"/>
<line x1="875.8" y1="443.0" x2="875.8" y2="438.8" class="tk"/>
<line x1="875.8" y1="20.9" x2="875.8" y2="25.1" class="tk"/>
<line x1="941.1" y1="443.0" x2="941.1" y2="438.8" class="tk"/>
<line x1="941.1" y1="20.9" x2="941.1" y2="25.1" class="tk"/>
<line x1="1006.5" y1="443.0" x2="1006.5" y2="438.8" class="tk"/>
<line x1="1006.5" y1="20.9" x2="1006.5" y2="25.1" class="tk"/>
<line x1="1071.9" y1="443.0" x2="1071.9" y2="438.8" class="tk"/>
<line x1="1071.9" y1="20.9" x2="1071.9" y2="25.1" class="tk"/>
<line x1="1137.2" y1="443.0" x2="1137.2" y2="438.8" class="tk"/>
<line x1="1137.2" y1="20.9" x2="1137.2" y2="25.1" class="tk"/>
<line x1="1202.6" y1="443.0" x2="1202.6" y2="438.8" class="tk"/>
<line x1="1202.6" y1="20.9" x2="1202.6" y2="25.1" class="tk"/>
<line x1="745.0" y1="419.5" x2="753.0" y2="419.5" class="tk"/>
<line x1="1268.0" y1="419.5" x2="1260.0" y2="419.5" class="tk"/>
<text x="736.0" y="425.1" class="tl" font-size="18.0" text-anchor="end">0</text>
<line x1="745.0" y1="372.6" x2="753.0" y2="372.6" class="tk"/>
<line x1="1268.0" y1="372.6" x2="1260.0" y2="372.6" class="tk"/>
<text x="736.0" y="378.2" class="tl" font-size="18.0" text-anchor="end">200</text>
<line x1="745.0" y1="325.7" x2="753.0" y2="325.7" class="tk"/>
<line x1="1268.0" y1="325.7" x2="1260.0" y2="325.7" class="tk"/>
<text x="736.0" y="331.3" class="tl" font-size="18.0" text-anchor="end">400</text>
<line x1="745.0" y1="278.8" x2="753.0" y2="278.8" class="tk"/>
<line x1="1268.0" y1="278.8" x2="1260.0" y2="278.8" class="tk"/>
<text x="736.0" y="284.4" class="tl" font-size="18.0" text-anchor="end">600</text>
<line x1="745.0" y1="231.9" x2="753.0" y2="231.9" class="tk"/>
<line x1="1268.0" y1="231.9" x2="1260.0" y2="231.9" class="tk"/>
<text x="736.0" y="237.5" class="tl" font-size="18.0" text-anchor="end">800</text>
<line x1="745.0" y1="185.0" x2="753.0" y2="185.0" class="tk"/>
<line x1="1268.0" y1="185.0" x2="1260.0" y2="185.0" class="tk"/>
<text x="736.0" y="190.6" class="tl" font-size="18.0" text-anchor="end">1000</text>
<line x1="745.0" y1="138.1" x2="753.0" y2="138.1" class="tk"/>
<line x1="1268.0" y1="138.1" x2="1260.0" y2="138.1" class="tk"/>
<text x="736.0" y="143.7" class="tl" font-size="18.0" text-anchor="end">1200</text>
<line x1="745.0" y1="91.2" x2="753.0" y2="91.2" class="tk"/>
<line x1="1268.0" y1="91.2" x2="1260.0" y2="91.2" class="tk"/>
<text x="736.0" y="96.8" class="tl" font-size="18.0" text-anchor="end">1400</text>
<line x1="745.0" y1="44.3" x2="753.0" y2="44.3" class="tk"/>
<line x1="1268.0" y1="44.3" x2="1260.0" y2="44.3" class="tk"/>
<text x="736.0" y="49.9" class="tl" font-size="18.0" text-anchor="end">1600</text>
<line x1="745.0" y1="396.1" x2="749.2" y2="396.1" class="tk"/>
<line x1="1268.0" y1="396.1" x2="1263.8" y2="396.1" class="tk"/>
<line x1="745.0" y1="349.1" x2="749.2" y2="349.1" class="tk"/>
<line x1="1268.0" y1="349.1" x2="1263.8" y2="349.1" class="tk"/>
<line x1="745.0" y1="302.2" x2="749.2" y2="302.2" class="tk"/>
<line x1="1268.0" y1="302.2" x2="1263.8" y2="302.2" class="tk"/>
<line x1="745.0" y1="255.4" x2="749.2" y2="255.4" class="tk"/>
<line x1="1268.0" y1="255.4" x2="1263.8" y2="255.4" class="tk"/>
<line x1="745.0" y1="208.5" x2="749.2" y2="208.5" class="tk"/>
<line x1="1268.0" y1="208.5" x2="1263.8" y2="208.5" class="tk"/>
<line x1="745.0" y1="161.6" x2="749.2" y2="161.6" class="tk"/>
<line x1="1268.0" y1="161.6" x2="1263.8" y2="161.6" class="tk"/>
<line x1="745.0" y1="114.7" x2="749.2" y2="114.7" class="tk"/>
<line x1="1268.0" y1="114.7" x2="1263.8" y2="114.7" class="tk"/>
<line x1="745.0" y1="67.8" x2="749.2" y2="67.8" class="tk"/>
<line x1="1268.0" y1="67.8" x2="1263.8" y2="67.8" class="tk"/>
<text x="676.2" y="222.2" class="at yt" text-anchor="middle" transform="rotate(-90 676.2 222.2)">Radiation Value</text>
<text x="1006.4" y="500.8" class="at" text-anchor="middle">Bands</text>
<g transform="translate(965.3 541.3) scale(0.9 1)"><text x="0" y="0" class="sub" text-anchor="middle">(<tspan font-weight="bold">b</tspan>)</text></g>
<rect x="1060.5" y="30.5" width="195.0" height="246.0" class="leg"/>
<line x1="1063.2" y1="45.4" x2="1112" y2="45.4" stroke="#333333" stroke-width="1.5" stroke-linecap="butt"/>
<text x="1117.5" y="52.8" class="lt">Original</text>
<line x1="1063.2" y1="72.4" x2="1112" y2="72.4" stroke="#ff7f0e" stroke-width="1.5" stroke-linecap="butt"/>
<text x="1117.5" y="79.8" class="lt">AWLP</text>
<line x1="1063.2" y1="99.4" x2="1112" y2="99.4" stroke="#0000ff" stroke-width="1.5" stroke-linecap="butt"/>
<text x="1117.5" y="106.8" class="lt">CNMF</text>
<line x1="1063.2" y1="126.3" x2="1112" y2="126.3" stroke="#007f00" stroke-width="1.5" stroke-linecap="butt"/>
<text x="1117.5" y="133.7" class="lt">GIHS</text>
<line x1="1063.2" y1="153.3" x2="1112" y2="153.3" stroke="#00ffff" stroke-width="1.5" stroke-linecap="butt"/>
<text x="1117.5" y="160.7" class="lt">MTF_GLP</text>
<line x1="1063.2" y1="180.3" x2="1112" y2="180.3" stroke="#7f7f00" stroke-width="1.5" stroke-linecap="butt"/>
<text x="1117.5" y="187.7" class="lt">HPF</text>
<line x1="1063.2" y1="207.3" x2="1112" y2="207.3" stroke="#7f007f" stroke-width="1.5" stroke-linecap="butt"/>
<text x="1117.5" y="214.7" class="lt">SFIM</text>
<line x1="1063.2" y1="234.3" x2="1112" y2="234.3" stroke="#ff00ff" stroke-width="1.5" stroke-linecap="butt"/>
<text x="1117.5" y="241.7" class="lt">DIP-HyperKite</text>
<line x1="1063.2" y1="261.2" x2="1112" y2="261.2" stroke="#ff0000" stroke-width="1.5" stroke-linecap="butt"/>
<text x="1117.5" y="268.6" class="lt">EDRN</text>
</svg>
</body></html>
